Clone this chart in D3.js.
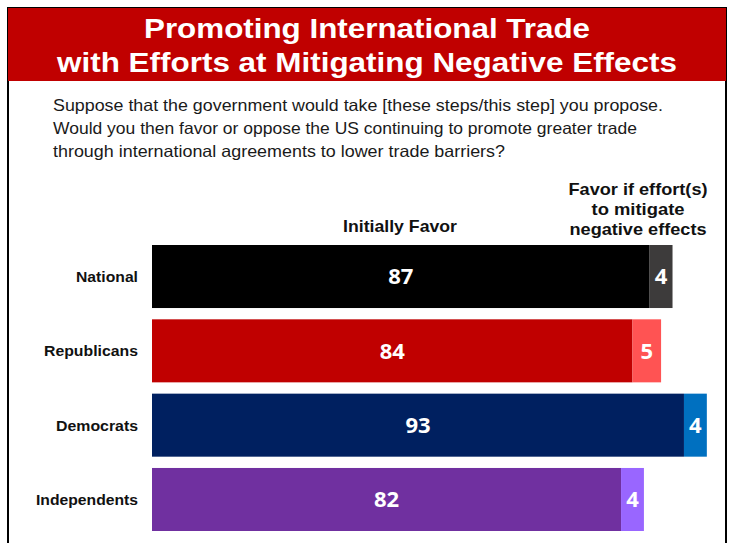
<!DOCTYPE html>
<html>
<head>
<meta charset="utf-8">
<script src="https://cdn.jsdelivr.net/npm/d3@7"></script>
<style>
  body { margin: 0; background: #fff; }
  svg { display: block; }
</style>
</head>
<body>
<div id="chart"></div>
<script>
// data
var groups = ['National', 'Republicans', 'Democrats', 'Independents'];
var initiallyFavor = [87, 84, 93, 82];
var favorIfMitigated = [4, 5, 4, 4];
var mainColors = ['#000000', '#c00000', '#002060', '#7030a0'];
var extraColors = ['#3d3b3b', '#ff5353', '#0070c0', '#9966ff'];

var titleLines = ['Promoting International Trade', 'with Efforts at Mitigating Negative Effects'];
var questionLines = [
  'Suppose that the government would take [these steps/this step] you propose.',
  'Would you then favor or oppose the US continuing to promote greater trade',
  'through international agreements to lower trade barriers?'
];
var headerExtra = ['Favor if effort(s)', 'to mitigate', 'negative effects'];

var W = 734, H = 543;
var svg = d3.select('#chart').append('svg')
  .attr('width', W).attr('height', H);

// frame + title band
svg.append('rect')
  .attr('x', 8).attr('y', 8).attr('width', 718).attr('height', 560)
  .attr('fill', '#fff').attr('stroke', '#000').attr('stroke-width', 2);
svg.append('rect')
  .attr('x', 8).attr('y', 8).attr('width', 718).attr('height', 73)
  .attr('fill', '#c00000');

var titleWidths = [446, 620];
svg.selectAll('.title').data(titleLines).enter().append('text')
  .attr('class', 'title')
  .attr('x', 367).attr('y', function (d, i) { return 38 + i * 34; })
  .attr('text-anchor', 'middle')
  .attr('font-family', 'Liberation Sans, Arial, sans-serif')
  .attr('font-weight', 'bold').attr('font-size', 28.5)
  .attr('fill', '#fff')
  .attr('textLength', function (d, i) { return titleWidths[i]; })
  .attr('lengthAdjust', 'spacingAndGlyphs')
  .text(function (d) { return d; });

var qWidths = [610, 584, 452];
svg.selectAll('.q').data(questionLines).enter().append('text')
  .attr('class', 'q')
  .attr('x', 53).attr('y', function (d, i) { return 111 + i * 23; })
  .attr('font-family', 'Liberation Sans, Arial, sans-serif')
  .attr('font-size', 16.5).attr('fill', '#1a1a1a')
  .attr('textLength', function (d, i) { return qWidths[i]; })
  .attr('lengthAdjust', 'spacingAndGlyphs')
  .text(function (d) { return d; });

// scales
var x = d3.scaleLinear().domain([0, 100]).range([152, 152 + 572]);
var y = d3.scaleBand().domain(groups).range([245, 531]).paddingInner(0.152).paddingOuter(0);

// column headers
svg.append('text')
  .attr('x', 400).attr('y', 232)
  .attr('text-anchor', 'middle')
  .attr('font-family', 'Liberation Sans, Arial, sans-serif')
  .attr('font-weight', 'bold').attr('font-size', 17).attr('fill', '#111')
  .attr('textLength', 114).attr('lengthAdjust', 'spacingAndGlyphs')
  .text('Initially Favor');

var hxWidths = [139, 93, 137];
svg.selectAll('.hx').data(headerExtra).enter().append('text')
  .attr('class', 'hx')
  .attr('x', 638).attr('y', function (d, i) { return 195 + i * 20; })
  .attr('text-anchor', 'middle')
  .attr('font-family', 'Liberation Sans, Arial, sans-serif')
  .attr('font-weight', 'bold').attr('font-size', 17).attr('fill', '#111')
  .attr('textLength', function (d, i) { return hxWidths[i]; })
  .attr('lengthAdjust', 'spacingAndGlyphs')
  .text(function (d) { return d; });

// rows
var rows = svg.selectAll('.row').data(groups).enter().append('g')
  .attr('class', 'row')
  .attr('transform', function (d) { return 'translate(0,' + y(d) + ')'; });

var labelWidths = [62, 94, 82, 102];
rows.append('text')
  .attr('x', 138).attr('y', y.bandwidth() / 2)
  .attr('dy', '0.35em')
  .attr('text-anchor', 'end')
  .attr('font-family', 'Liberation Sans, Arial, sans-serif')
  .attr('font-weight', 'bold').attr('font-size', 15.5).attr('fill', '#111')
  .attr('textLength', function (d, i) { return labelWidths[i]; })
  .attr('lengthAdjust', 'spacingAndGlyphs')
  .text(function (d) { return d; });

rows.append('rect')
  .attr('x', x(0))
  .attr('width', function (d, i) { return x(initiallyFavor[i]) - x(0); })
  .attr('height', y.bandwidth())
  .attr('fill', function (d, i) { return mainColors[i]; });

rows.append('rect')
  .attr('x', function (d, i) { return x(initiallyFavor[i]); })
  .attr('width', function (d, i) { return x(favorIfMitigated[i]) - x(0); })
  .attr('height', y.bandwidth())
  .attr('fill', function (d, i) { return extraColors[i]; });

rows.append('text')
  .attr('x', function (d, i) { return (x(0) + x(initiallyFavor[i])) / 2; })
  .attr('y', y.bandwidth() / 2).attr('dy', '0.36em')
  .attr('text-anchor', 'middle')
  .attr('font-family', 'Open Sans, sans-serif')
  .attr('font-weight', 'bold').attr('font-size', 22).attr('fill', '#fff')
  .text(function (d, i) { return initiallyFavor[i]; });

rows.append('text')
  .attr('x', function (d, i) { return x(initiallyFavor[i] + favorIfMitigated[i] / 2); })
  .attr('y', y.bandwidth() / 2).attr('dy', '0.36em')
  .attr('text-anchor', 'middle')
  .attr('font-family', 'Open Sans, sans-serif')
  .attr('font-weight', 'bold').attr('font-size', 22).attr('fill', '#fff')
  .text(function (d, i) { return favorIfMitigated[i]; });
</script>
</body>
</html>
